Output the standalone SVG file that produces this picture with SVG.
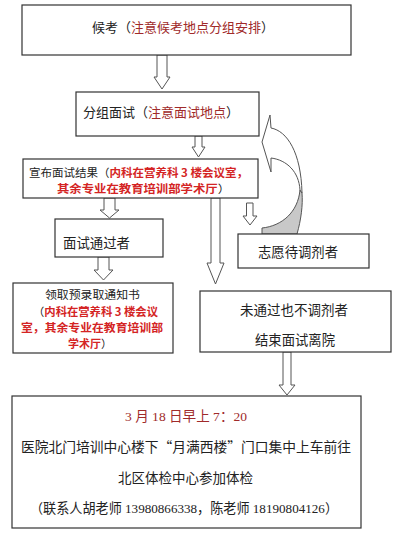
<svg xmlns="http://www.w3.org/2000/svg" width="400" height="533" viewBox="0 0 400 533">
<style>
.box{fill:#fff;stroke:#333;stroke-width:1.2}
.arr{fill:#fff;stroke:#555;stroke-width:1}
.t{font-family:"Noto Sans CJK SC","Noto Sans",sans-serif;fill:#222}
.s{font-family:"Liberation Serif","Noto Sans CJK SC",serif;fill:#222}
.dr{fill:#a02a2a}
.br{fill:#d42424;font-weight:bold}
</style>
<rect width="400" height="533" fill="#fff"/>
<g id="connectors">
<path class="arr" d="M157,55 L167,55 L167,77 L170,77 L162,89 L154,77 L157,77 Z"/>
<path class="arr" d="M195,136 L202,136 L202,147 L205,147 L198.5,157 L192,147 L195,147 Z"/>
<path class="arr" d="M104,198 L115,198 L115,210 L119,210 L109.5,218 L100,210 L104,210 Z"/>
<path class="arr" d="M98,257 L109,257 L109,270 L113,270 L103.5,280 L94,270 L98,270 Z"/>
<path class="arr" d="M211,198 L220,198 L220,263 L224,263 L215.5,284 L207,263 L211,263 Z"/>
<path class="arr" d="M246.5,203 L253,203 L253,216 L257,216 L250,225 L243,216 L246.5,216 Z"/>
<path class="arr" d="M283,352 L291,352 L291,385 L295,385 L287,395 L279,385 L283,385 Z"/>
<path d="M300,190 C298,212 282,226 262,228 L262,234 L297,234 C301,220 303,205 302,193 Z" fill="#c8c8c8" stroke="#555" stroke-width="1"/>
<path class="arr" d="M270,115 L262,142 L271,172 L271,158 C287,160 299,172 300,190 L302,193 C301,152 287,131 271,128 Z"/>
</g>
<g id="n1">
<rect class="box" x="22" y="5" width="329" height="50"/>
<text class="t" x="92" y="32" font-size="13" textLength="182" lengthAdjust="spacingAndGlyphs">候考（<tspan class="dr">注意候考地点分组安排</tspan>）</text>
</g>
<g id="n2">
<rect class="box" x="76" y="92" width="183" height="44"/>
<text class="t" x="83" y="117" font-size="13" textLength="156" lengthAdjust="spacingAndGlyphs">分组面试（<tspan class="dr">注意面试地点</tspan>）</text>
</g>
<g id="n3">
<rect class="box" x="23" y="159" width="235" height="39"/>
<text class="t" x="29" y="176.5" font-size="11" textLength="219" lengthAdjust="spacingAndGlyphs">宣布面试结果（<tspan class="br">内科在营养科 3 楼会议室，</tspan></text>
<text class="t" x="57" y="193" font-size="11" textLength="173" lengthAdjust="spacingAndGlyphs"><tspan class="br">其余专业在教育培训部学术厅</tspan>）</text>
</g>
<g id="n4">
<rect class="box" x="55" y="219" width="108" height="38"/>
<text class="t" x="63" y="248" font-size="13.5" textLength="67" lengthAdjust="spacingAndGlyphs">面试通过者</text>
</g>
<g id="n5">
<rect class="box" x="13" y="283" width="160" height="70"/>
<text class="t" x="45" y="299" font-size="11" textLength="95" lengthAdjust="spacingAndGlyphs">领取预录取通知书</text>
<text class="t" x="33" y="316" font-size="11" textLength="125" lengthAdjust="spacingAndGlyphs">（<tspan class="br">内科在营养科 3 楼会议</tspan></text>
<text class="t" x="21" y="332" font-size="11" textLength="142" lengthAdjust="spacingAndGlyphs"><tspan class="br">室，其余专业在教育培训部</tspan></text>
<text class="t" x="68" y="348" font-size="11" textLength="44" lengthAdjust="spacingAndGlyphs"><tspan class="br">学术厅</tspan>）</text>
</g>
<g id="n6">
<rect class="box" x="200" y="291" width="191" height="61"/>
<text class="t" x="240" y="315" font-size="13.5" textLength="108" lengthAdjust="spacingAndGlyphs">未通过也不调剂者</text>
<text class="t" x="255" y="345" font-size="13.5" textLength="80" lengthAdjust="spacingAndGlyphs">结束面试离院</text>
</g>
<g id="n8">
<rect class="box" x="238" y="234" width="131" height="34"/>
<text class="t" x="258" y="256.5" font-size="13.5" textLength="80" lengthAdjust="spacingAndGlyphs">志愿待调剂者</text>
</g>
<g id="n7">
<rect class="box" x="12" y="396" width="349" height="132"/>
<text class="s dr" x="125" y="421" font-size="13.5" textLength="122" lengthAdjust="spacingAndGlyphs">3 月 18 日早上 7：20</text>
<text class="t" x="21" y="452" font-size="13.5" textLength="330" lengthAdjust="spacingAndGlyphs">医院北门培训中心楼下“月满西楼”门口集中上车前往</text>
<text class="t" x="118" y="483" font-size="13.5" textLength="135" lengthAdjust="spacingAndGlyphs">北区体检中心参加体检</text>
<text class="s" x="30" y="513" font-size="13.5" textLength="308" lengthAdjust="spacingAndGlyphs">（联系人胡老师 13980866338，陈老师 18190804126）</text>
</g>
</svg>
